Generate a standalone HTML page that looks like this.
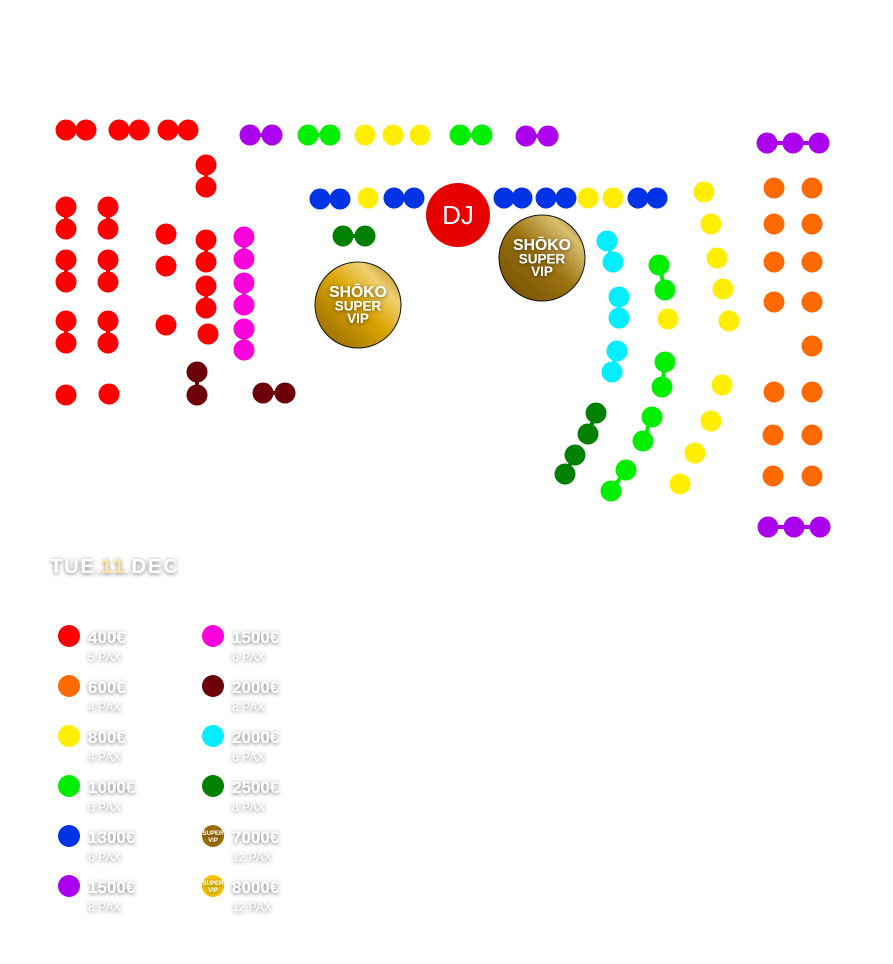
<!DOCTYPE html>
<html><head><meta charset="utf-8"><style>
body{margin:0;background:#fff;width:893px;height:964px;overflow:hidden}
svg{display:block}
.t{font-family:"Liberation Sans",sans-serif;font-weight:bold;fill:#fff;filter:url(#sh)}
</style></head><body>
<svg width="893" height="964" viewBox="0 0 893 964" xmlns="http://www.w3.org/2000/svg">
<defs>
<filter id="sh" x="-20%" y="-50%" width="140%" height="200%"><feDropShadow dx="0" dy="1" stdDeviation="2" flood-color="#000" flood-opacity="0.55"/></filter>
<linearGradient id="g1" x1="0" y1="1" x2="1" y2="0"><stop offset="0" stop-color="#8a6100"/><stop offset="0.5" stop-color="#d9a400"/><stop offset="0.75" stop-color="#f0d070"/><stop offset="1" stop-color="#a57a10"/></linearGradient>
<linearGradient id="g2" x1="0" y1="1" x2="1" y2="0"><stop offset="0" stop-color="#6e4c00"/><stop offset="0.5" stop-color="#9c7210"/><stop offset="0.8" stop-color="#d9bf70"/><stop offset="1" stop-color="#7a5a10"/></linearGradient>
</defs>
<g id="d"></g>
</svg>
<script>
const S='http://www.w3.org/2000/svg',g=document.getElementById('d');
function c(x,y,col,r){const e=document.createElementNS(S,'circle');e.setAttribute('cx',x);e.setAttribute('cy',y);e.setAttribute('r',r||10.5);e.setAttribute('fill',col);g.appendChild(e);}
function l(p,col){for(let i=0;i<p.length-1;i++){const e=document.createElementNS(S,'line');e.setAttribute('x1',p[i][0]);e.setAttribute('y1',p[i][1]);e.setAttribute('x2',p[i+1][0]);e.setAttribute('y2',p[i+1][1]);e.setAttribute('stroke',col);e.setAttribute('stroke-width',4);g.appendChild(e);}p.forEach(q=>c(q[0],q[1],col));}
const R='#ff0000',O='#ff6a00',Y='#ffee00',G='#00ee00',B='#0033e6',P='#aa00ee',M='#ff00dd',MR='#6b0008',C='#00eeff',DG='#008000';
l([[66,130],[86,130]],R);l([[119,130],[139,130]],R);l([[168,130],[188,130]],R);
l([[250,135],[272,135]],P);l([[308,135],[330,135]],G);[365,393,420].forEach(x=>c(x,135,Y));
l([[460,135],[482,135]],G);l([[526,136],[548,136]],P);
l([[767,143],[793,143],[819,143]],P);l([[768,527],[794,527],[820,527]],P);
l([[206,165],[206,187]],R);
l([[320,199],[340,199]],B);c(368,198,Y);l([[394,198],[414,198]],B);
l([[504,198],[522,198]],B);l([[546,198],[566,198]],B);c(588,198,Y);c(613,198,Y);l([[638,198],[657,198]],B);
l([[343,236],[365,236]],DG);
[66,108].forEach(x=>{l([[x,207],[x,229]],R);l([[x,260],[x,282]],R);l([[x,321],[x,343]],R);});
c(66,395,R);c(109,394,R);
[234,266,325].forEach(y=>c(166,y,R));
l([[206,240],[206,262]],R);l([[206,286],[206,308]],R);c(208,334,R);
l([[244,237],[244,259]],M);l([[244,283],[244,305]],M);l([[244,329],[244,350]],M);
l([[197,372],[197,395]],MR);l([[263,393],[285,393]],MR);
l([[607,241],[613,262]],C);l([[619,297],[619,318]],C);l([[617,351],[612,372]],C);
l([[659,265],[665,290]],G);c(668,319,Y);l([[665,362],[662,387]],G);l([[652,417],[643,441]],G);l([[626,470],[611,491]],G);
l([[596,413],[588,434]],DG);l([[575,455],[565,474]],DG);
[[704,192],[711,224],[717,258],[723,289],[729,321],[722,385],[711,421],[695,453],[680,484]].forEach(p=>c(p[0],p[1],Y));
[[774,188],[812,188],[774,224],[812,224],[774,262],[812,262],[774,302],[812,302],[812,346],[774,392],[812,392],[773,435],[812,435],[773,476],[812,476]].forEach(p=>c(p[0],p[1],O));
c(458,215,'#e60000',32);
function txt(x,y,s,sz,a,extra){const e=document.createElementNS(S,'text');e.setAttribute('x',x);e.setAttribute('y',y);e.setAttribute('font-size',sz);e.setAttribute('text-anchor',a||'start');e.setAttribute('class','t');if(extra)for(const k in extra)e.setAttribute(k,extra[k]);e.textContent=s;g.appendChild(e);return e;}
const dj=txt(458,224,'DJ',26,'middle');dj.setAttribute('style','font-weight:normal;filter:none');
function vip(x,y,grad,r,s){const e=document.createElementNS(S,'circle');e.setAttribute('cx',x);e.setAttribute('cy',y);e.setAttribute('r',r);e.setAttribute('fill',grad);e.setAttribute('stroke','#111');e.setAttribute('stroke-width',1);g.appendChild(e);
txt(x,y-s*0.55,'SHŌKO',s*1.05,'middle');txt(x,y+s*0.35,'SUPER',s*0.9,'middle');txt(x,y+s*1.2,'VIP',s*0.9,'middle');}
vip(358,305,'url(#g1)',43,15);vip(542,258,'url(#g2)',43,15);
txt(50,573,'TUE.',20,'start',{'letter-spacing':'2'});txt(101,573,'11',20,'start',{fill:'#ffe9a0','letter-spacing':'2'}).setAttribute('style','fill:#ffe6a0');txt(124,573,'.DEC',20,'start',{'letter-spacing':'2'});
const L1=[[R,'400€','5 PAX'],[O,'600€','4 PAX'],[Y,'800€','4 PAX'],[G,'1000€','6 PAX'],[B,'1300€','6 PAX'],[P,'1500€','8 PAX']];
const L2=[[M,'1500€','6 PAX'],[MR,'2000€','8 PAX'],[C,'2000€','6 PAX'],[DG,'2500€','8 PAX'],['v2','7000€','12 PAX'],['v1','8000€','12 PAX']];
function leg(arr,x){arr.forEach((a,i)=>{const y=636+i*50;if(a[0]=='v1'||a[0]=='v2'){const e=document.createElementNS(S,'circle');e.setAttribute('cx',x);e.setAttribute('cy',y);e.setAttribute('r',11);e.setAttribute('fill',a[0]=='v1'?'#f2c200':'#9c6e00');g.appendChild(e);txt(x,y-1,'SUPER',6,'middle');txt(x,y+6,'VIP',6,'middle');}else c(x,y,a[0],11);txt(x+19,y+7,a[1],17);txt(x+19,y+25,a[2],12).setAttribute('style','font-weight:normal');});}
leg(L1,69);leg(L2,213);
</script>
</body></html>
